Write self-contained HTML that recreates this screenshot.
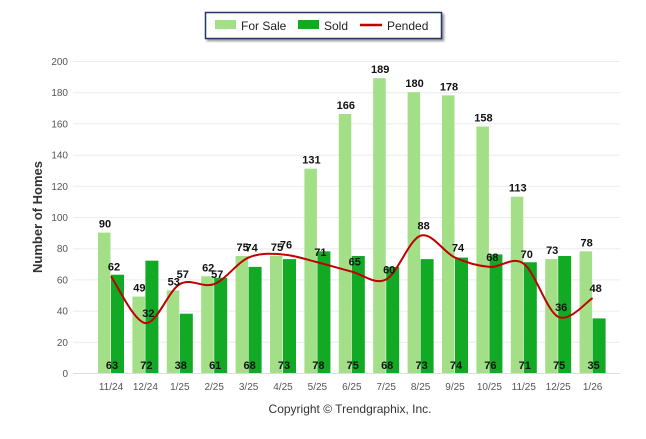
<!DOCTYPE html>
<html><head><meta charset="utf-8"><style>
body{margin:0;background:#fff;font-family:"Liberation Sans",sans-serif}
svg text{font-family:"Liberation Sans",sans-serif}
</style></head><body>
<svg width="646" height="434" id="c">
<g>
<rect x="205.5" y="12.5" width="236" height="26" fill="#fff" stroke="#1f3864" stroke-width="1.5" style="filter:drop-shadow(2px 2px 1px #999)"/>
<rect x="215" y="20" width="21" height="9" fill="#a3df87"/>
<text x="241" y="30" font-size="12" fill="#222">For Sale</text>
<rect x="298" y="20" width="21" height="9" fill="#12a924"/>
<text x="324" y="30" font-size="12" fill="#222">Sold</text>
<line x1="360" y1="25" x2="382" y2="25" stroke="#c00000" stroke-width="2.5"/>
<text x="387" y="30" font-size="12" fill="#222">Pended</text>
</g>
<text transform="translate(42,217) rotate(-90)" text-anchor="middle" font-size="13" font-weight="bold" fill="#333">Number of Homes</text>
<text x="350" y="413" text-anchor="middle" font-size="12" fill="#333">Copyright © Trendgraphix, Inc.</text>
<g id="grid"></g><g id="bars"></g><g id="line"></g><g id="labels"></g>
</svg>
<script>
const categories=["11/24","12/24","1/25","2/25","3/25","4/25","5/25","6/25","7/25","8/25","9/25","10/25","11/25","12/25","1/26"];
const forSale=[90,49,53,62,75,75,131,166,189,180,178,158,113,73,78];
const sold=[63,72,38,61,68,73,78,75,68,73,74,76,71,75,35];
const pended=[62,32,57,57,74,76,71,65,60,88,74,68,70,36,48];
const yTicks=[0,20,40,60,80,100,120,140,160,180,200];
const NS="http://www.w3.org/2000/svg";
const y=v=>373-v*1.56;
const x=i=>111+i*34.4;
function mk(tag,attrs,parent,txt){const e=document.createElementNS(NS,tag);for(const k in attrs)e.setAttribute(k,attrs[k]);if(txt!==undefined)e.textContent=txt;document.getElementById(parent).appendChild(e);return e;}
yTicks.forEach(t=>{
 const l=mk('line',{x1:73,x2:620,y1:y(t)+0.5,y2:y(t)+0.5,stroke:t?'#ebebeb':'#ddd'},'grid');
 
 
 const tx=mk('text',{x:68,y:y(t)+4,'text-anchor':'end','font-size':'10',fill:'#555'},'grid',t);
 
 
});
categories.forEach((c,i)=>{
 const tx=mk('text',{x:x(i),y:390,'text-anchor':'middle','font-size':'10',fill:'#555'},'grid',c);
 
 
 const a=mk('rect',{x:x(i)-13,y:y(forSale[i]),width:12.5,height:forSale[i]*1.56,fill:'#a3df87'},'bars');
 
 
 const b=mk('rect',{x:x(i),y:y(sold[i]),width:13,height:sold[i]*1.56,fill:'#12a924'},'bars');
 
 
 const la=mk('text',{x:x(i)-6,y:y(forSale[i])-5,'text-anchor':'middle','font-size':'11','font-weight':'bold',fill:'#111'},'labels',forSale[i]);
 
 
 const lb=mk('text',{x:x(i)+1,y:369,'text-anchor':'middle','font-size':'11','font-weight':'bold',fill:'#111'},'labels',sold[i]);
 
 
 const lp=mk('text',{x:x(i)+3,y:y(pended[i])-6,'text-anchor':'middle','font-size':'11','font-weight':'bold',fill:'#111'},'labels',pended[i]);
 
 
});
const pts=pended.map((v,i)=>[x(i),y(v)]);
let d=`M${pts[0][0]},${pts[0][1]}`;
for(let i=0;i<pts.length-1;i++){
 const p0=pts[Math.max(0,i-1)],p1=pts[i],p2=pts[i+1],p3=pts[Math.min(pts.length-1,i+2)];
 const c1=[p1[0]+(p2[0]-p0[0])/6,p1[1]+(p2[1]-p0[1])/6];
 const c2=[p2[0]-(p3[0]-p1[0])/6,p2[1]-(p3[1]-p1[1])/6];
 d+=` C${c1[0]},${c1[1]} ${c2[0]},${c2[1]} ${p2[0]},${p2[1]}`;
}
const pl=mk('path',{d:d,fill:'none',stroke:'#c00000','stroke-width':2},'line');


</script>
</body></html>
